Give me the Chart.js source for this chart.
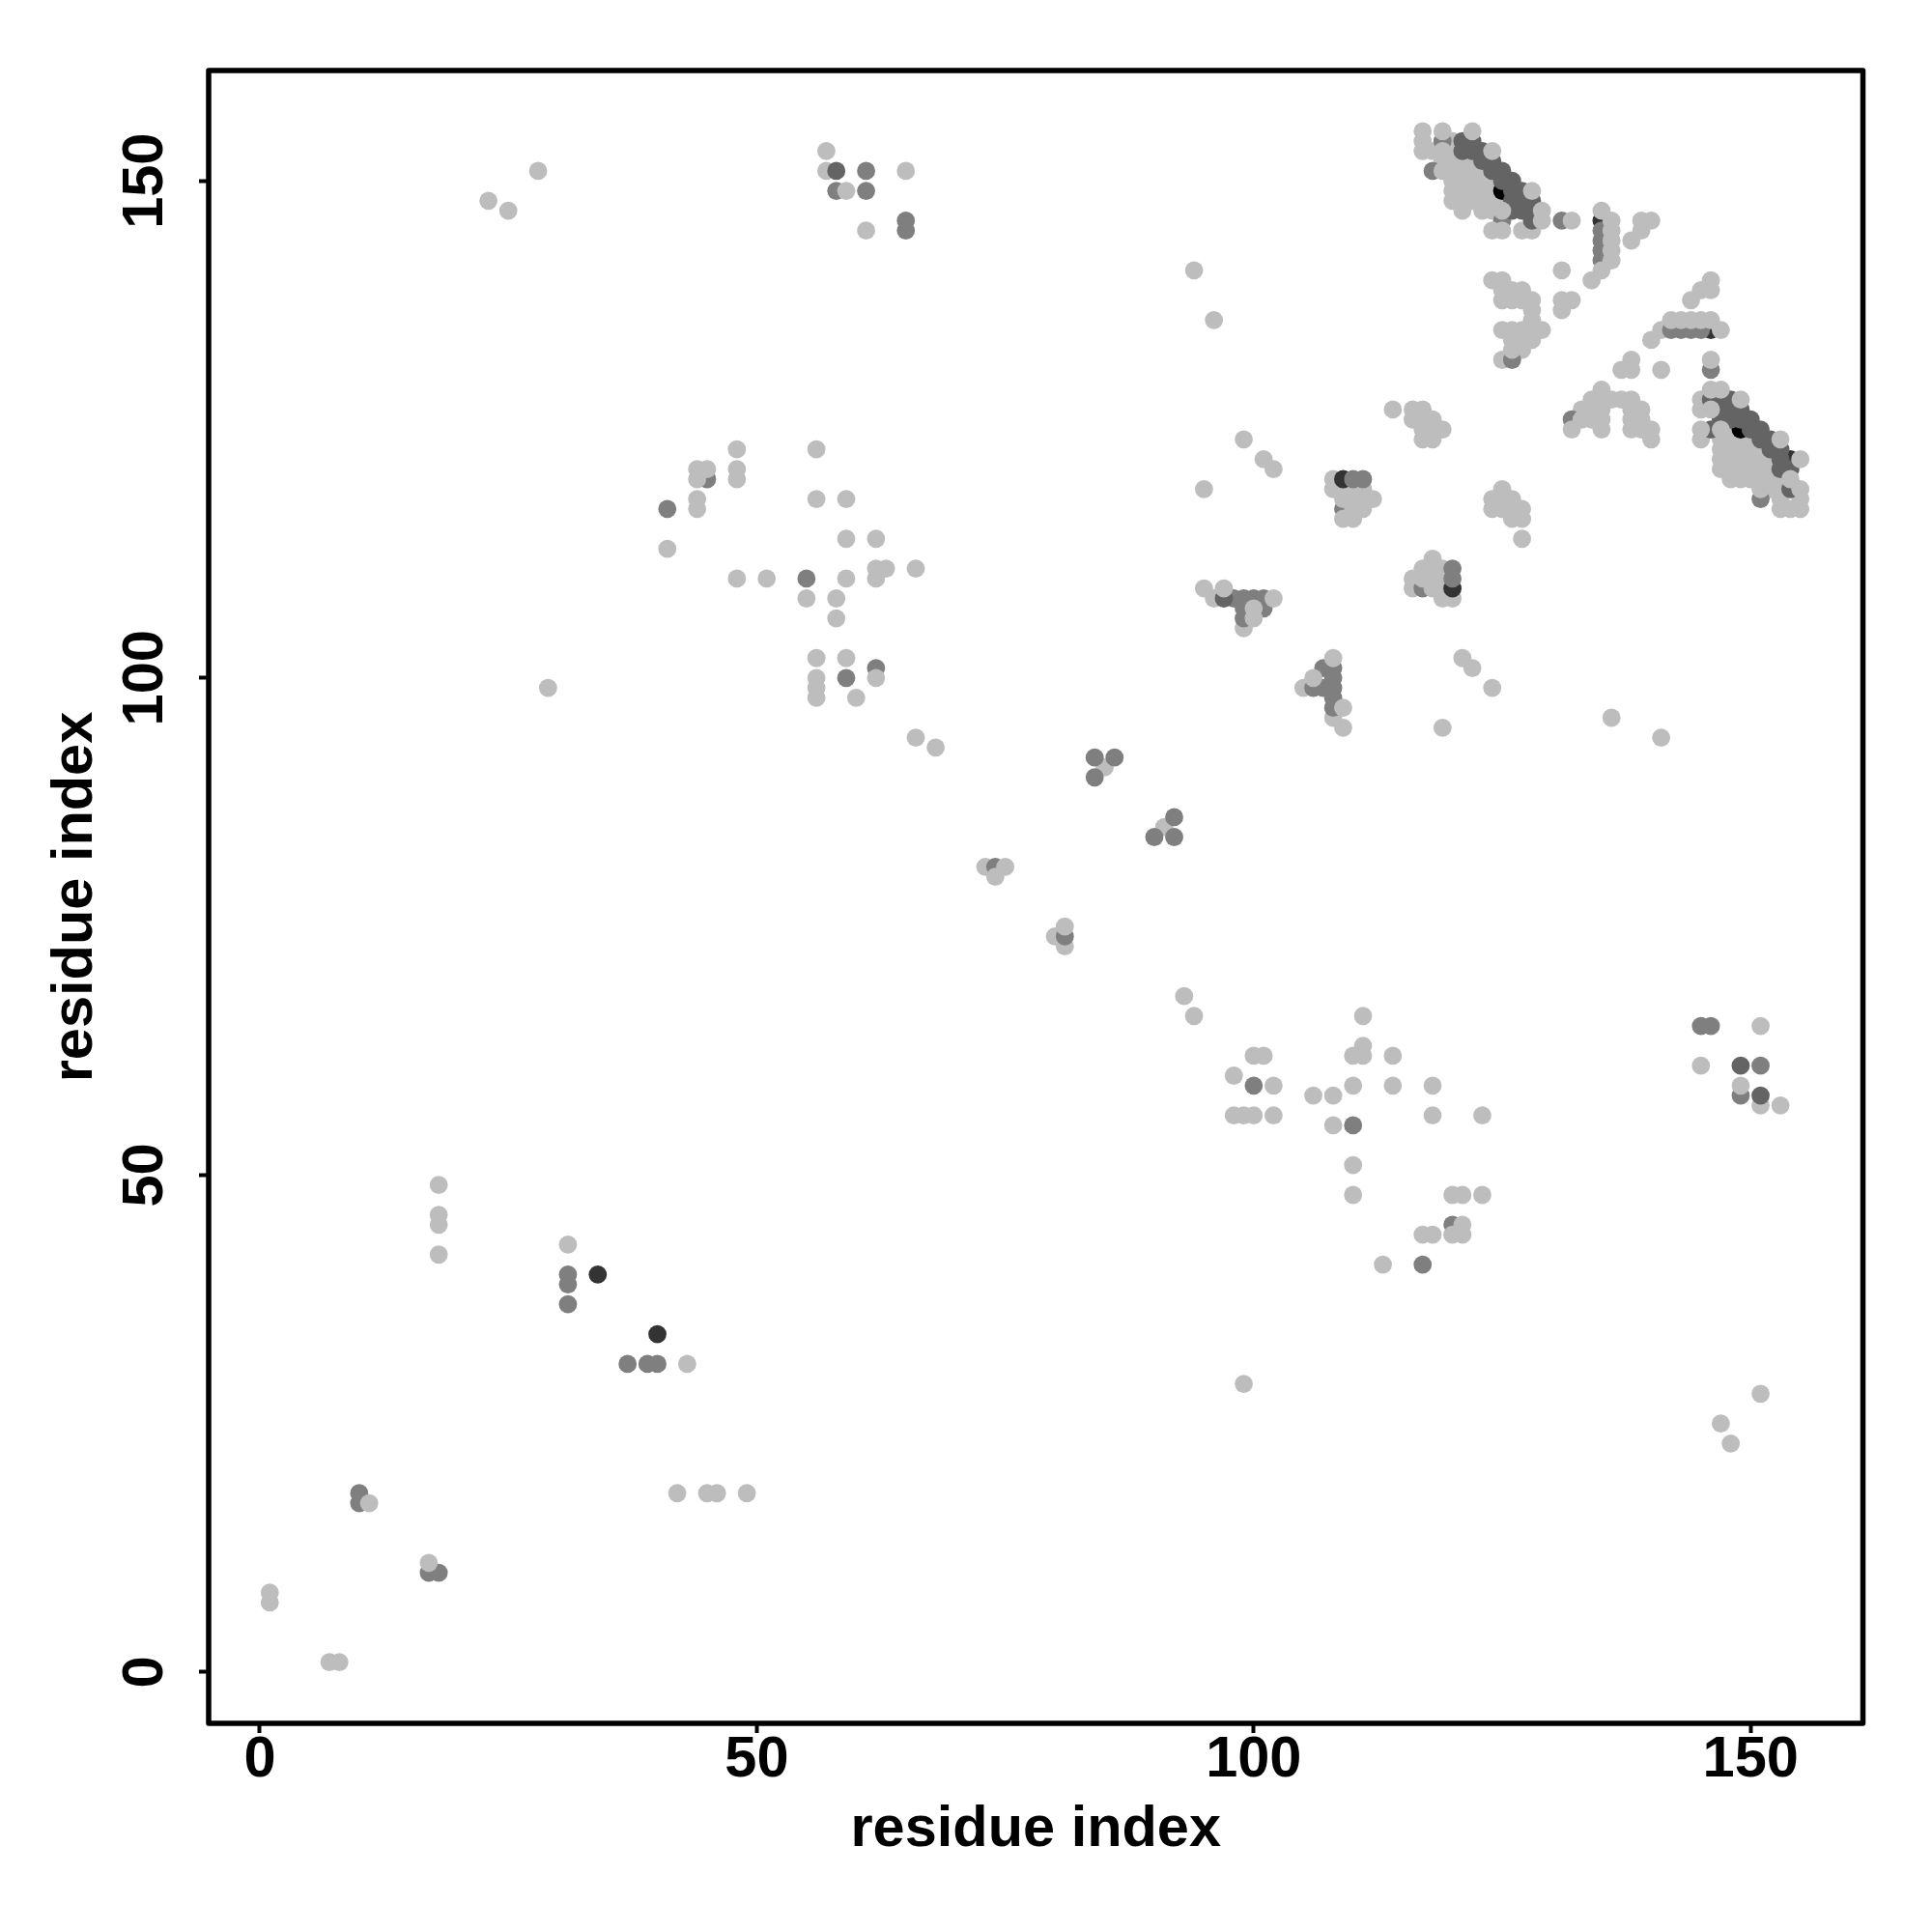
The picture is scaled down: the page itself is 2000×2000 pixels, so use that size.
<!DOCTYPE html>
<html>
<head>
<meta charset="utf-8">
<style>
  html, body { margin: 0; padding: 0; background: #fff; }
  #wrap { width: 2000px; height: 2000px; }
</style>
<script src="https://cdn.jsdelivr.net/npm/chart.js@4/dist/chart.umd.min.js"></script>
</head>
<body>
<div id="wrap"><canvas id="contacts" width="2000" height="2000"></canvas></div>
<script>
const axisTicks = [0, 50, 100, 150];
const axisTitle = 'residue index';

// contact points as [residue x, residue y], grouped by grey level
const lightPts = [
  [1,8],[1,7],[7,1],[8,1],[18,49],[18,46],[18,45],[18,42],[31,43],[43,31],[42,18],[45,18],[46,18],[49,18],
  [23,148],[25,147],[28,151],[29,99],
  [57,153],[57,151],[65,151],[61,145],
  [48,123],[56,123],[44,121],[48,121],[48,120],[44,118],[44,117],[56,118],[59,118],[41,113],[59,114],[62,114],
  [48,110],[51,110],[59,110],[62,110],[62,111],[63,111],[66,111],[55,108],[58,108],[58,106],[56,102],[59,102],[56,100],[56,99],[56,98],[60,98],[66,94],[68,93],
  [85,91],[91,85],[73,81],[80,74],[81,73],[93,68],[94,66],
  [111,66],[100,62],[101,62],[110,62],[111,63],[111,62],[114,62],[98,60],[102,59],[110,59],[114,59],[118,59],[106,58],[108,58],
  [98,56],[99,56],[100,56],[102,56],[118,56],[123,56],[108,55],[110,51],[110,48],[120,48],[121,48],[123,48],[117,44],[118,44],[121,44],[113,41],[99,29],
  [151,65],[145,61],[151,57],[153,57],[151,28],[147,25],[148,23],
  [94,141],[96,136],[99,124],[101,122],[102,121],[95,119],
  [114,127],[116,127],[117,127],[116,126],[117,126],[118,126],[117,125],[118,125],[119,125],[117,124],[118,124],
  [108,120],[108,119],[109,119],[110,119],[111,119],[110,118],[111,118],[112,118],[111,117],[110,116],
  [125,119],[124,118],[125,118],[126,118],[124,117],[125,117],[126,117],[127,117],[126,116],[127,116],[127,114],
  [118,112],[117,111],[118,111],[119,111],[116,110],[118,110],[119,110],[116,109],[119,109],[119,108],[120,108],
  [95,109],[96,108],[99,105],
  [105,99],[108,96],[109,95],
  [121,102],[122,101],[124,99],[119,95],[136,96],[141,94],
  // upper band, first diagonal
  [117,154],[120,154],[117,153],[118,153],[120,153],[119,152],[120,152],[121,152],[122,152],
  [120,151],[121,151],[122,151],[123,151],[120,150],[121,150],[122,150],[123,150],[124,150],[120,149],[121,149],[122,149],[123,149],[124,149],
  [120,148],[121,148],[122,148],[123,148],[124,148],[125,148],[121,147],[123,147],[124,147],[127,145],[128,145],[117,155],
  [134,140],[139,146],[140,146],[139,145],[138,144],
  [124,140],[125,140],[125,139],[126,139],[127,139],[125,138],[126,138],[127,138],[128,138],[128,137],[128,136],
  [125,135],[126,135],[127,135],[128,135],[129,135],[126,134],[127,134],[128,134],[127,133],[125,132],
  [131,141],[131,138],[132,138],[131,137],
  [146,140],[146,139],[145,139],[144,138],[141,135],[140,134],
  [138,132],[137,131],[138,131],[141,131],
  [135,129],[134,128],[135,128],[136,128],[137,128],[138,128],[133,127],[134,127],[135,127],[138,127],[139,127],
  [134,126],[135,126],[138,126],[139,126],[135,125],[138,125],[139,125],[140,125],[140,124],
  // lower band, second diagonal
  [145,128],[145,127],[145,124],[148,125],[147,124],[148,124],[149,124],[150,124],
  [147,123],[148,123],[149,123],[150,123],[151,123],[147,122],[148,122],[149,122],[150,122],[151,122],[152,122],
  [147,121],[148,121],[149,121],[150,121],[151,121],[152,121],[148,120],[149,120],[150,120],[151,120],[152,120],[153,120],
  [152,119],[153,119],[153,118],[155,118],[153,117],[154,117],[155,117]
];
const midPts = [
  [10,18],[10,17],[17,10],[18,10],[31,40],[31,39],[31,37],[37,31],[39,31],[40,31],
  [61,151],[58,149],[61,149],[65,146],[65,145],[45,120],[41,117],[55,110],[62,101],[59,100],
  [84,92],[86,92],[84,90],[92,86],[90,84],[92,84],[74,81],[81,74],
  [100,59],[110,55],[120,45],[117,41],[145,65],[146,65],[151,61],[149,58],
  [110,120],[111,120],[109,117],[120,111],[120,110],[117,109],
  [98,108],[99,108],[100,108],[101,108],[101,107],[99,107],[99,106],
  [107,101],[108,101],[108,100],[106,99],[107,99],[108,99],[108,98],[108,97],
  [119,154],[125,146],[118,151],[131,146],[126,132],
  [135,145],[135,144],[135,143],[135,142],[142,135],[143,135],[144,135],[145,135],[146,131],[132,126],[151,118]
];
const deepPts = [
  [58,151],[149,61],[151,58],[97,108],
  [121,154],[122,154],[121,153],[122,153],[123,153],[123,152],[124,152],[124,151],[125,151],[125,150],[126,150],
  [126,149],[127,149],[126,148],[127,148],[128,148],[126,147],[127,147],[128,147],[128,146],
  [146,128],[147,128],[148,128],[147,127],[148,127],[149,127],[147,126],[148,126],[149,126],[150,126],[146,125],
  [150,125],[151,125],[151,124],[152,124],[152,123],[153,123],[153,122],[153,121],[154,121],[154,119]
];
const darkPts = [[34,40],[40,34],[109,120],[120,109],[135,146],[146,135],[154,122]];
const blackPts = [[125,149],[149,125]];
// light points that sit on top of the darker ones in the picture
const capPts = [
  [122,155],[119,155],[124,153],[119,153],[119,151],[128,149],[129,147],[129,146],[132,146],[125,147],[124,145],[125,145],
  [135,147],[136,146],[136,145],[136,144],[136,143],[136,142],[135,141],
  [146,136],[145,136],[144,136],[143,136],[142,136],[147,135],[146,132],[126,133],[133,126],[132,125],
  [146,129],[147,129],[149,128],[146,127],[145,125],[147,125],[153,124],[155,122],[155,119],[154,120],[151,119],
  [118,109],[117,110],[110,117],[109,118],[109,116],[102,108],[100,107],[100,106],[97,109],[108,102],[106,100],[109,97],
  [121,45],[120,44],[44,120],[45,121],[59,149],[149,59],[11,17],[17,11],[62,100],[81,75],[75,81],[74,80]
];

const toXY = pts => pts.map(([x, y]) => ({ x, y }));
const layer = (pts, color, order) => ({
  data: toXY(pts),
  backgroundColor: color,
  borderWidth: 0,
  pointRadius: 9.4,
  pointHoverRadius: 9.4,
  order
});

// plain frame round the plot area, R box() style
const frame = {
  id: 'frame',
  afterDatasetsDraw(chart) {
    const { ctx, chartArea: a } = chart;
    ctx.save();
    ctx.strokeStyle = '#000';
    ctx.lineWidth = 5.5;
    ctx.lineJoin = 'round';
    ctx.strokeRect(a.left, a.top, a.right - a.left, a.bottom - a.top);
    ctx.restore();
  }
};

const font = { family: '"Liberation Sans", Arial, sans-serif', weight: 'bold', size: 59.5 };
const ticksFrom = scale => { scale.ticks = axisTicks.map(value => ({ value })); };

new Chart(document.getElementById('contacts'), {
  type: 'scatter',
  data: {
    datasets: [
      layer(capPts, '#bdbdbd', 1),
      layer(deepPts, '#646464', 2),
      layer(midPts, '#7f7f7f', 3),
      layer(darkPts, '#333333', 4),
      layer(blackPts, '#000000', 5),
      layer(lightPts, '#bdbdbd', 6)
    ]
  },
  plugins: [frame],
  options: {
    responsive: false,
    animation: false,
    layout: { padding: { top: 73, right: 71.5, left: 0, bottom: 0 } },
    plugins: { legend: { display: false }, tooltip: { enabled: false } },
    scales: {
      x: {
        type: 'linear',
        min: -5.15,
        max: 161.3,
        afterBuildTicks: ticksFrom,
        afterFit: s => { s.height = 216; },
        grid: { drawOnChartArea: false, tickLength: 10, tickWidth: 4, tickColor: '#000' },
        border: { display: false },
        ticks: { font, color: '#000', padding: -7, maxRotation: 0, autoSkip: false },
        title: { display: true, text: axisTitle, font, color: '#000', padding: { top: 0, bottom: 70 } }
      },
      y: {
        type: 'linear',
        min: -5.15,
        max: 161.1,
        afterBuildTicks: ticksFrom,
        afterFit: s => { s.width = 216; },
        grid: { drawOnChartArea: false, tickLength: 10, tickWidth: 4, tickColor: '#000' },
        border: { display: false },
        ticks: { font, color: '#000', padding: 5, minRotation: 90, maxRotation: 90, crossAlign: 'center', autoSkip: false },
        title: { display: true, text: axisTitle, font, color: '#000', padding: { top: 43, bottom: 0 } }
      }
    }
  }
});
</script>
</body>
</html>
